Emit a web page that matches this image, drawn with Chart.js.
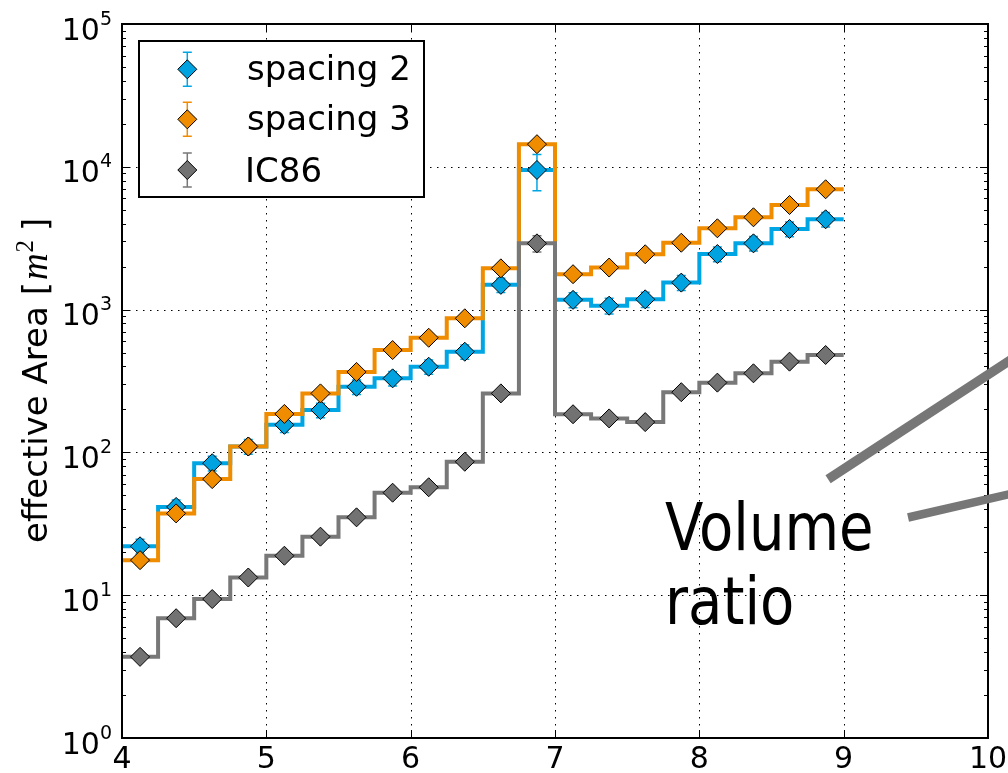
<!DOCTYPE html>
<html lang="en">
<head>
<meta charset="UTF-8" />
<title>Effective Area</title>
<script src="https://cdn.jsdelivr.net/npm/chart.js"></script>
<style>
  html, body { margin: 0; padding: 0; background: #fff; }
  #wrap { width: 1008px; height: 773px; }
</style>
</head>
<body>
<div id="wrap"><canvas id="areaChart" width="1008" height="773"></canvas></div>
<script>
// bins in log10(E)
const binEdges   = [4.0, 4.25, 4.5, 4.75, 5.0, 5.25, 5.5, 5.75, 6.0, 6.25, 6.5, 6.75, 7.0, 7.25, 7.5, 7.75, 8.0, 8.25, 8.5, 8.75, 9.0];
const binCenters = [4.125, 4.375, 4.625, 4.875, 5.125, 5.375, 5.625, 5.875, 6.125, 6.375, 6.625, 6.875, 7.125, 7.375, 7.625, 7.875, 8.125, 8.375, 8.625, 8.875];

// effective area [m^2]
const spacing2 = [22, 41.5, 84, 110, 156, 198, 288, 330, 398, 507, 1490, 9500, 1170, 1065, 1180, 1545, 2450, 2910, 3670, 4290];
const spacing3 = [17.6, 37.4, 65, 110, 186, 259, 366, 521, 635, 869, 1945, 14400, 1770, 1970, 2440, 2940, 3710, 4430, 5400, 6960];
const ic86     = [3.7, 6.9, 9.4, 13.3, 18.9, 25.7, 35.1, 52.2, 57, 86, 259, 2910, 185, 173, 163, 264, 308, 358, 432, 481];

// symmetric errors
const spacing2Err = [2.6, 5, 10, 13, 18, 23, 34, 38, 46, 58, 170, 2700, 140, 135, 145, 185, 290, 340, 430, 500];
const spacing3Err = [1.4, 3, 5, 8, 13, 18, 26, 36, 44, 60, 135, 1000, 120, 135, 170, 200, 255, 300, 370, 480];
const ic86Err     = [0.2, 0.4, 0.5, 0.8, 1.1, 1.5, 2, 3, 3.4, 5, 15, 380, 11, 10, 10, 16, 18, 21, 26, 29];

const xTicks = [4, 5, 6, 7, 8, 9, 10];
const yTicks = [1, 10, 100, 1000, 10000, 100000];

const seriesNames = ['spacing 2', 'spacing 3', 'IC86'];
const lineColors  = ['#00a6e4', '#f08c00', '#787878'];
const fillColors  = ['#00a2e0', '#f08c00', '#727272'];

// "Volume ratio" annotation (data coords)
const volumeLines = [
  [[8.892, 64.9], [10.3, 552]],
  [[9.446, 35.0], [10.3, 55.3]]
];
const volumeText = { x: 7.762, lines: [[20.7, 'Volume'], [6.33, 'ratio']] };

const FONT = '"DejaVu Sans", sans-serif';

function stepData(vals) {
  return binEdges.map((x, i) => ({ x: x, y: vals[Math.min(i, vals.length - 1)] }));
}
function pointData(vals) {
  return binCenters.map((x, i) => ({ x: x, y: vals[i] }));
}

const allVals = [spacing2, spacing3, ic86];
const allErrs = [spacing2Err, spacing3Err, ic86Err];
const datasets = [];
allVals.forEach((vals, k) => {
  datasets.push({
    label: seriesNames[k] + ' steps',
    data: stepData(vals),
    stepped: true,
    borderColor: lineColors[k],
    borderWidth: 4,
    pointRadius: 0,
    fill: false,
    order: 6 - 2 * k
  });
  datasets.push({
    label: seriesNames[k],
    data: pointData(vals),
    showLine: false,
    pointStyle: 'rectRot',
    pointRadius: 9.5,
    pointBackgroundColor: fillColors[k],
    pointBorderColor: '#000',
    pointBorderWidth: 1,
    errors: allErrs[k],
    errColor: lineColors[k],
    order: 5 - 2 * k
  });
});

function drawDiamond(ctx, x, y, r, fill) {
  ctx.beginPath();
  ctx.moveTo(x, y - r);
  ctx.lineTo(x + r, y);
  ctx.lineTo(x, y + r);
  ctx.lineTo(x - r, y);
  ctx.closePath();
  ctx.fillStyle = fill;
  ctx.fill();
  ctx.lineWidth = 1;
  ctx.strokeStyle = '#000';
  ctx.stroke();
}

function drawErr(ctx, x, yTop, yBot, color) {
  ctx.strokeStyle = color;
  ctx.lineWidth = 1.5;
  ctx.beginPath();
  ctx.moveTo(x, yTop); ctx.lineTo(x, yBot);
  ctx.moveTo(x - 4.5, yTop); ctx.lineTo(x + 4.5, yTop);
  ctx.moveTo(x - 4.5, yBot); ctx.lineTo(x + 4.5, yBot);
  ctx.stroke();
}

const plotDecor = {
  id: 'plotDecor',
  beforeDatasetsDraw(chart) {
    const { ctx, chartArea: a, scales: { x, y } } = chart;
    ctx.save();
    ctx.strokeStyle = '#000';
    ctx.lineWidth = 1;
    ctx.setLineDash([1.5, 5.5]);
    xTicks.slice(1, -1).forEach(v => {
      const px = Math.round(x.getPixelForValue(v)) + 0.5;
      ctx.beginPath(); ctx.moveTo(px, a.top); ctx.lineTo(px, a.bottom); ctx.stroke();
    });
    yTicks.slice(1, -1).forEach(v => {
      const py = Math.round(y.getPixelForValue(v)) + 0.5;
      ctx.beginPath(); ctx.moveTo(a.left, py); ctx.lineTo(a.right, py); ctx.stroke();
    });
    ctx.restore();
  },
  beforeDatasetDraw(chart, args) {
    const ds = chart.data.datasets[args.index];
    if (!ds.errors) return;
    const { ctx, scales: { x, y } } = chart;
    ctx.save();
    ds.data.forEach((p, i) => {
      const e = ds.errors[i];
      drawErr(ctx, x.getPixelForValue(p.x), y.getPixelForValue(p.y + e), y.getPixelForValue(p.y - e), ds.errColor);
    });
    ctx.restore();
  },
  afterDatasetsDraw(chart) {
    // legend box
    const ctx = chart.ctx;
    ctx.save();
    ctx.fillStyle = '#fff';
    ctx.fillRect(139, 41, 285, 156);
    ctx.strokeStyle = '#000';
    ctx.lineWidth = 2;
    ctx.strokeRect(139, 41, 285, 156);
    const rows = [69.3, 119.3, 170];
    rows.forEach((cy, k) => {
      drawErr(ctx, 187.3, cy - 17, cy + 17, lineColors[k]);
      drawDiamond(ctx, 187.3, cy, 9.5, fillColors[k]);
      ctx.fillStyle = '#000';
      ctx.textAlign = 'left';
      ctx.textBaseline = 'alphabetic';
      ctx.font = (k === 2 ? '34px ' : '34px ') + FONT;
      ctx.fillText(seriesNames[k], k === 2 ? 245 : 247, cy + (k === 2 ? 12 : 11));
    });
    ctx.restore();
  },
  afterDraw(chart) {
    const { ctx, chartArea: a, scales: { x, y } } = chart;
    ctx.save();
    // frame
    ctx.strokeStyle = '#000';
    ctx.lineWidth = 2;
    ctx.strokeRect(a.left, a.top, a.right - a.left, a.bottom - a.top);
    // ticks (inside)
    ctx.lineWidth = 1;
    ctx.beginPath();
    xTicks.forEach(v => {
      const px = Math.round(x.getPixelForValue(v)) + 0.5;
      ctx.moveTo(px, a.bottom); ctx.lineTo(px, a.bottom - 8);
      ctx.moveTo(px, a.top); ctx.lineTo(px, a.top + 8);
    });
    yTicks.forEach((v, i) => {
      const py = Math.round(y.getPixelForValue(v)) + 0.5;
      ctx.moveTo(a.left, py); ctx.lineTo(a.left + 8, py);
      ctx.moveTo(a.right, py); ctx.lineTo(a.right - 8, py);
      if (i < yTicks.length - 1) {
        for (let m = 2; m <= 9; m++) {
          const pm = Math.round(y.getPixelForValue(v * m)) + 0.5;
          ctx.moveTo(a.left, pm); ctx.lineTo(a.left + 4, pm);
          ctx.moveTo(a.right, pm); ctx.lineTo(a.right - 4, pm);
        }
      }
    });
    ctx.stroke();

    // tick labels
    ctx.fillStyle = '#000';
    ctx.textBaseline = 'alphabetic';
    ctx.textAlign = 'center';
    ctx.font = '30px ' + FONT;
    xTicks.forEach(v => ctx.fillText(String(v), x.getPixelForValue(v), 768));
    ctx.textAlign = 'right';
    yTicks.forEach(v => {
      const py = y.getPixelForValue(v);
      const exp = String(Math.round(Math.log10(v)));
      ctx.font = '19px ' + FONT;
      const ew = ctx.measureText(exp).width;
      ctx.fillText(exp, 112, py + 0.5);
      ctx.font = '30px ' + FONT;
      ctx.fillText('10', 112 - ew, py + 15.5);
    });

    // y axis title
    ctx.save();
    ctx.translate(47, 543);
    ctx.rotate(-Math.PI / 2);
    ctx.textAlign = 'left';
    let cx = 0;
    ctx.font = '34px ' + FONT;
    const t1 = 'effective Area [';
    ctx.fillText(t1, cx, 0); cx += ctx.measureText(t1).width + 2;
    ctx.font = 'italic 37px "Liberation Serif", serif';
    ctx.fillText('m', cx, 0); cx += ctx.measureText('m').width + 1;
    ctx.font = '25px "Liberation Serif", serif';
    ctx.fillText('2', cx, -14); cx += ctx.measureText('2').width + 9;
    ctx.font = '34px ' + FONT;
    ctx.fillText(']', cx, 0);
    ctx.restore();

    // Volume ratio annotation
    ctx.strokeStyle = '#777777';
    ctx.lineCap = 'butt';
    volumeLines.forEach((seg, i) => {
      ctx.lineWidth = i === 0 ? 9.5 : 8.5;
      ctx.beginPath();
      ctx.moveTo(x.getPixelForValue(seg[0][0]), y.getPixelForValue(seg[0][1]));
      ctx.lineTo(x.getPixelForValue(seg[1][0]), y.getPixelForValue(seg[1][1]));
      ctx.stroke();
    });
    ctx.fillStyle = '#000';
    ctx.textAlign = 'left';
    ctx.font = '66px ' + FONT;
    volumeText.lines.forEach(([yv, txt]) => {
      ctx.save();
      ctx.translate(x.getPixelForValue(volumeText.x), y.getPixelForValue(yv));
      ctx.scale(0.85, 1);
      ctx.fillText(txt, 0, 0);
      ctx.restore();
    });
    ctx.restore();
  }
};

new Chart(document.getElementById('areaChart'), {
  type: 'line',
  data: { datasets: datasets },
  options: {
    responsive: false,
    animation: false,
    devicePixelRatio: 1,
    layout: { padding: { left: 122, right: 20, top: 24, bottom: 35 } },
    plugins: { legend: { display: false }, tooltip: { enabled: false } },
    scales: {
      x: {
        type: 'linear', min: 4, max: 10,
        grid: { display: false }, border: { display: false },
        ticks: { display: false },
        afterFit: s => { s.height = 0; }
      },
      y: {
        type: 'logarithmic', min: 1, max: 100000,
        grid: { display: false }, border: { display: false },
        ticks: { display: false },
        afterFit: s => { s.width = 0; }
      }
    }
  },
  plugins: [plotDecor]
});
</script>
</body>
</html>
